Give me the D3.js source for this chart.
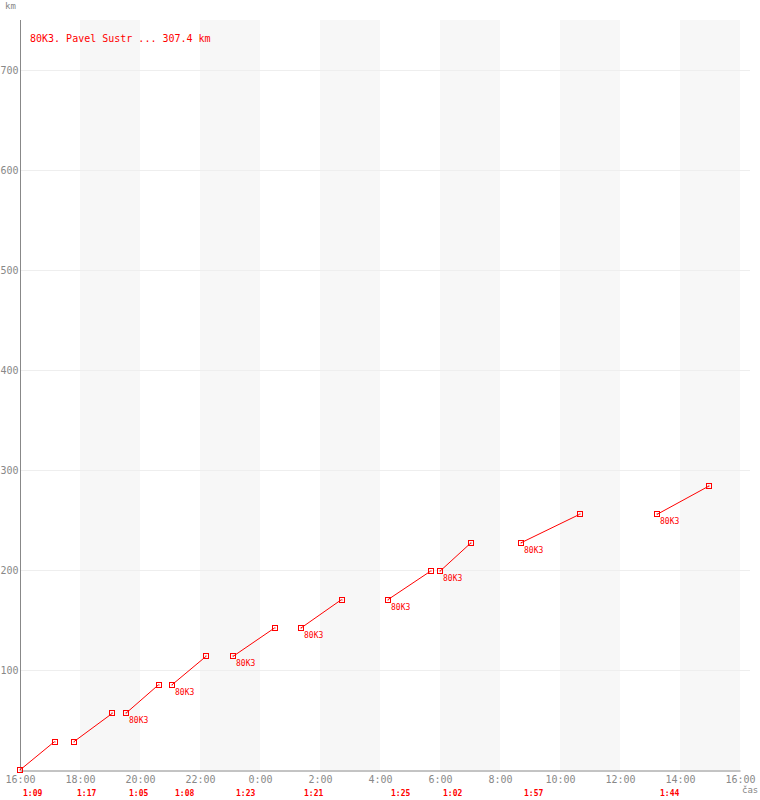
<!DOCTYPE html>
<html>
<head>
<meta charset="utf-8">
<script src="https://cdn.jsdelivr.net/npm/d3@7"></script>
<style>
  body { margin: 0; background: #fff; }
  svg { display: block; font-family: "DejaVu Sans Mono", monospace; }
</style>
</head>
<body>
<svg id="viz" width="760" height="800"></svg>
<script>
// lap data (start time, lap duration, km at start / end of lap)
var lapStart = ["16:00", "17:48", "19:32", "21:04", "23:06", "1:22", "4:16", "6:00", "8:42", "13:14"];
var lapTime = ["1:09", "1:17", "1:05", "1:08", "1:23", "1:21", "1:25", "1:02", "1:57", "1:44"];
var kmFrom = [0, 28.4, 56.8, 85.2, 113.6, 142, 170.4, 198.8, 227.2, 255.6];
var kmTo = [28.4, 56.8, 85.2, 113.6, 142, 170.4, 198.8, 227.2, 255.6, 284];
var lapLabel = ["", "", "80K3", "80K3", "80K3", "80K3", "80K3", "80K3", "80K3", "80K3"];
var yTicks = [100, 200, 300, 400, 500, 600, 700];
var legendText = "80K3. Pavel Sustr ... 307.4 km";

(function () {
    'use strict';
    var svg = d3.select("#viz");
    var margin = { top: 20, right: 20, bottom: 30, left: 20 };
    var w = 760 - margin.left - margin.right,
        h = 800 - margin.top - margin.bottom;
    var red = "#ff0000", grey = "#888";

    function toDate(s, addH) { // times before 16:00 are the next day
        var p = s.split(":"), hr = +p[0], mn = +p[1];
        if (hr < 16) hr += 24;
        return new Date(2020, 0, 1, hr, mn + (addH || 0));
    }
    function mins(s) { var p = s.split(":"); return +p[0] * 60 + +p[1]; }

    var t0 = new Date(2020, 0, 1, 16), t1 = new Date(2020, 0, 2, 16);
    var x = d3.scaleTime().domain([t0, t1]).range([margin.left, margin.left + w]);
    var y = d3.scaleLinear().domain([0, 750]).range([margin.top + h, margin.top]);

    var laps = lapStart.map(function (s, i) {
        return { t0: toDate(s), t1: toDate(s, mins(lapTime[i])), k0: kmFrom[i], k1: kmTo[i], dur: lapTime[i], lab: lapLabel[i] };
    });

    //BANDS
    var hours2 = d3.timeHour.every(2).range(t0, t1);
    svg.selectAll(".band")
        .data(hours2.filter(function (d, i) { return i % 2 === 1; }))
        .enter().append("rect")
        .attr("x", function (d) { return x(d); })
        .attr("y", margin.top)
        .attr("width", function (d) { return x(d3.timeHour.offset(d, 2)) - x(d); })
        .attr("height", h)
        .attr("fill", "#f7f7f7");

    //GRID
    svg.selectAll(".grid")
        .data(yTicks).enter().append("line")
        .attr("x1", margin.left).attr("x2", margin.left + w + 10)
        .attr("y1", function (d) { return y(d) + 0.5; })
        .attr("y2", function (d) { return y(d) + 0.5; })
        .attr("stroke", "#eeeeee");

    //AXES
    var yAxis = d3.axisLeft(y).tickValues(yTicks).tickSize(0).tickPadding(2);
    var gy = svg.append("g").attr("transform", "translate(" + (margin.left + 0.5) + ",0)").call(yAxis);
    gy.select(".domain").attr("stroke", grey).attr("d", "M0," + margin.top + "V" + (margin.top + h));
    gy.selectAll("text").attr("fill", grey).style("font-size", "10px").style("font-family", "DejaVu Sans Mono");

    var xAxis = d3.axisBottom(x).ticks(d3.timeHour.every(2)).tickFormat(d3.timeFormat("%-H:%M")).tickSize(0).tickPadding(5);
    var gx = svg.append("g").attr("transform", "translate(0," + (margin.top + h + 0.5) + ")").call(xAxis);
    gx.select(".domain").attr("stroke", grey);
    gx.selectAll("text").attr("fill", grey).style("font-size", "10px").style("font-family", "DejaVu Sans Mono");

    svg.append("text").attr("x", 5).attr("y", 9).attr("fill", grey)
        .style("font-size", "9px").text("km");
    svg.append("text").attr("x", 742).attr("y", 793).attr("fill", grey)
        .style("font-size", "9px").text("čas");

    //LEGEND
    svg.append("text").attr("x", 30).attr("y", 42).attr("fill", red)
        .style("font-size", "10px").text(legendText);

    //LAPS
    var g = svg.append("g");
    g.selectAll(".lap").data(laps).enter().append("line")
        .attr("x1", function (d) { return x(d.t0); })
        .attr("y1", function (d) { return y(d.k0); })
        .attr("x2", function (d) { return x(d.t1); })
        .attr("y2", function (d) { return y(d.k1); })
        .attr("stroke", red).attr("stroke-width", 1);

    var pts = [];
    laps.forEach(function (d) { pts.push([d.t0, d.k0]); pts.push([d.t1, d.k1]); });
    g.selectAll(".mk").data(pts).enter().append("rect")
        .attr("x", function (d) { return Math.round(x(d[0])) - 2.5; })
        .attr("y", function (d) { return Math.round(y(d[1])) - 2.5; })
        .attr("width", 5).attr("height", 5)
        .attr("fill", "none").attr("stroke", red);
    g.selectAll(".dot").data(pts).enter().append("rect")
        .attr("x", function (d) { return Math.round(x(d[0])) - 0.5; })
        .attr("y", function (d) { return Math.round(y(d[1])) - 0.5; })
        .attr("width", 1).attr("height", 1)
        .attr("fill", red);

    g.selectAll(".lab").data(laps).enter().append("text")
        .attr("x", function (d) { return x(d.t0) + 3; })
        .attr("y", function (d) { return y(d.k0) + 10; })
        .attr("fill", red).style("font-size", "8px")
        .text(function (d) { return d.lab; });

    g.selectAll(".dur").data(laps).enter().append("text")
        .attr("x", function (d) { return x(d.t0) + 3; })
        .attr("y", 796)
        .attr("fill", red).style("font-size", "8px").style("font-weight", "bold")
        .text(function (d) { return d.dur; });
}());
</script>
</body>
</html>
